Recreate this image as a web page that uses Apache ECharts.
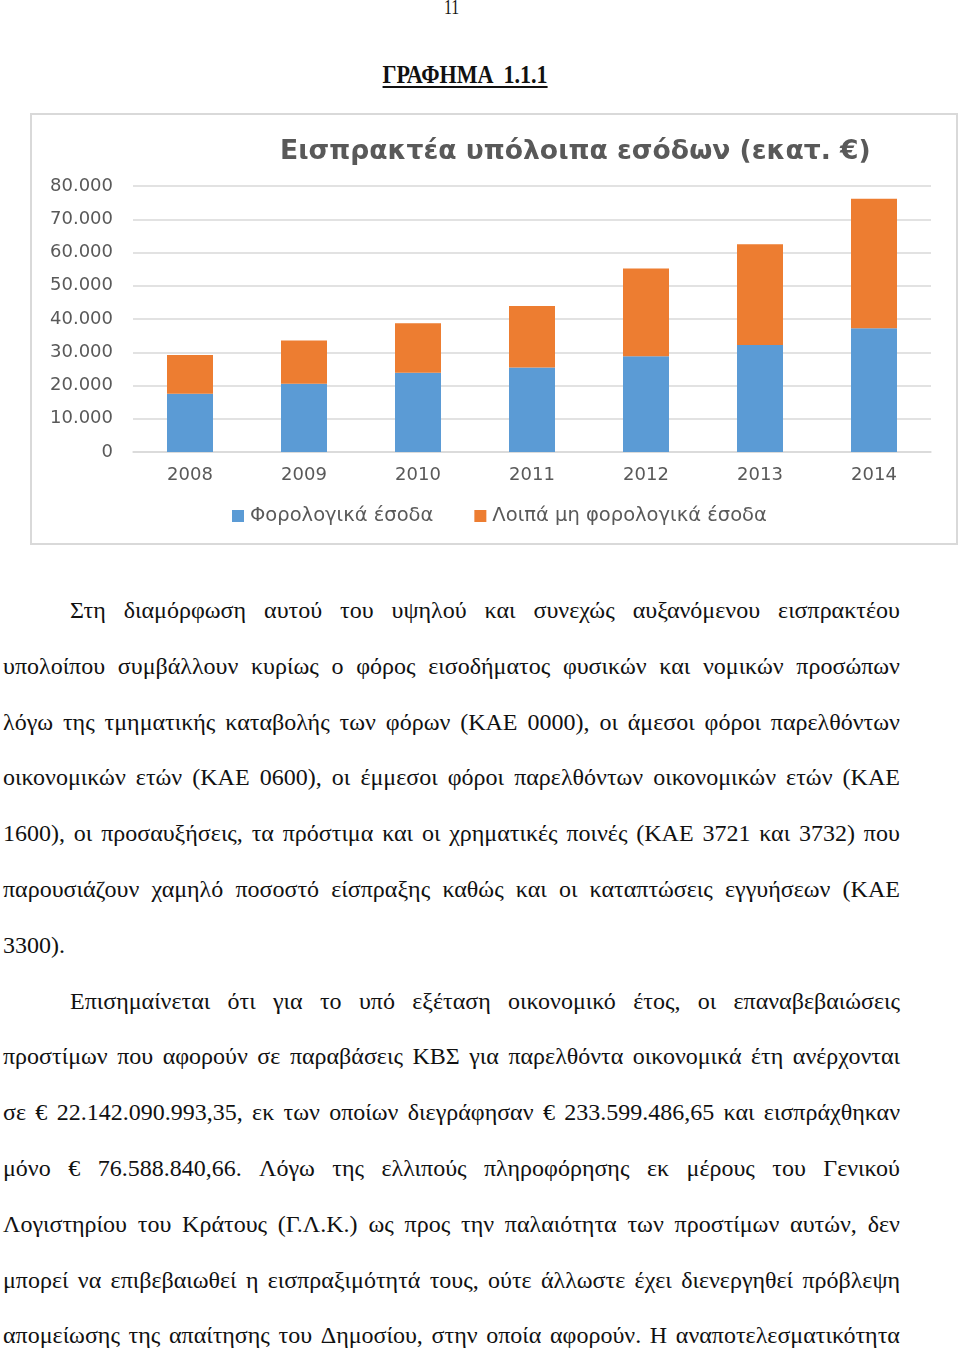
<!DOCTYPE html>
<html>
<head>
<meta charset="utf-8">
<script src="https://cdn.jsdelivr.net/npm/echarts@6/dist/echarts.min.js"></script>
<style>
  html, body { margin: 0; padding: 0; background: #fff; }
  body { width: 960px; height: 1350px; position: relative; overflow: hidden; }
  .pnum { position: absolute; left: 0; width: 904px; top: -6px; text-align: center;
          font-family: "Liberation Serif", serif; font-size: 22px; color: #111; }
  .pnum span { display: inline-block; transform: scaleX(0.72); }
  .ttl { position: absolute; left: 0; width: 930px; top: 60px; text-align: center;
         font-family: "Liberation Serif", serif; font-size: 26px; font-weight: bold; color: #111; line-height: 30px; }
  .ttl span { display: inline-block; transform: scaleX(0.85); text-decoration: underline; text-underline-offset: 3px; white-space: pre; }
  #box { position: absolute; left: 30px; top: 113px; width: 928px; height: 432px;
         border: 2px solid #d9d9d9; box-sizing: border-box; background: #fff; }
  #chart { width: 924px; height: 428px; }
  .ln { position: absolute; left: 3px; width: 897px; height: 28px; line-height: 28px;
        font-family: "Liberation Serif", "Times New Roman", serif; font-size: 24px; color: #111;
        display: flex; justify-content: space-between; white-space: nowrap; transform-origin: left center; }
  .ln.left { justify-content: flex-start; }
  .ln span { white-space: nowrap; }
</style>
</head>
<body>
<div class="pnum"><span>11</span></div>
<div class="ttl"><span>ΓΡΑΦΗΜΑ  1.1.1</span></div>
<div id="box"><div id="chart"></div></div>
<div id="text"></div>
<script>
// ---- chart data ----
const years = ['2008', '2009', '2010', '2011', '2012', '2013', '2014'];
const taxRevenue = [17500, 20500, 23800, 25400, 28800, 32200, 37200];
const nonTaxRevenue = [11700, 13000, 14900, 18500, 26400, 30300, 39000];
const seriesNames = ['Φορολογικά έσοδα', 'Λοιπά μη φορολογικά έσοδα'];
const chartTitle = 'Εισπρακτέα υπόλοιπα εσόδων (εκατ. €)';

// ---- page text ----
const bodyLines = [
  {indent: true, t: 'Στη διαμόρφωση αυτού του υψηλού και συνεχώς αυξανόμενου εισπρακτέου'},
  {t: 'υπολοίπου συμβάλλουν κυρίως ο φόρος εισοδήματος φυσικών και νομικών προσώπων'},
  {t: 'λόγω της τμηματικής καταβολής των φόρων (ΚΑΕ 0000), οι άμεσοι φόροι παρελθόντων'},
  {t: 'οικονομικών ετών (ΚΑΕ 0600), οι έμμεσοι φόροι παρελθόντων οικονομικών ετών (ΚΑΕ'},
  {t: '1600), οι προσαυξήσεις, τα πρόστιμα και οι χρηματικές ποινές (ΚΑΕ 3721 και 3732) που'},
  {t: 'παρουσιάζουν χαμηλό ποσοστό είσπραξης καθώς και οι καταπτώσεις εγγυήσεων (ΚΑΕ'},
  {left: true, t: '3300).'},
  {indent: true, t: 'Επισημαίνεται ότι για το υπό εξέταση οικονομικό έτος, οι επαναβεβαιώσεις'},
  {t: 'προστίμων που αφορούν σε παραβάσεις ΚΒΣ για παρελθόντα οικονομικά έτη ανέρχονται'},
  {t: 'σε € 22.142.090.993,35, εκ των οποίων διεγράφησαν € 233.599.486,65 και εισπράχθηκαν'},
  {t: 'μόνο € 76.588.840,66. Λόγω της ελλιπούς πληροφόρησης εκ μέρους του Γενικού'},
  {t: 'Λογιστηρίου του Κράτους (Γ.Λ.Κ.) ως προς την παλαιότητα των προστίμων αυτών, δεν'},
  {t: 'μπορεί να επιβεβαιωθεί η εισπραξιμότητά τους, ούτε άλλωστε έχει διενεργηθεί πρόβλεψη'},
  {t: 'απομείωσης της απαίτησης του Δημοσίου, στην οποία αφορούν. Η αναποτελεσματικότητα'}
];

const textHost = document.getElementById('text');
bodyLines.forEach((L, i) => {
  const d = document.createElement('div');
  d.className = 'ln' + (L.left ? ' left' : '');
  const x0 = L.indent ? 70 : 3;
  const w = 900 - x0;
  d.style.left = x0 + 'px';
  d.style.width = w + 'px';
  d.style.top = (596 + 55.8 * i) + 'px';
  const words = L.t.split(' ');
  words.forEach((wd, k) => {
    const s = document.createElement('span');
    s.textContent = wd;
    if (L.left && k > 0) s.style.marginLeft = '0.25em';
    d.appendChild(s);
  });
  textHost.appendChild(d);
  if (!L.left) {
    let nat = 0;
    d.querySelectorAll('span').forEach(s => nat += s.getBoundingClientRect().width);
    nat += 24 * 0.25 * (words.length - 1);
    if (nat > w) {
      d.style.width = nat + 'px';
      d.style.transform = 'scaleX(' + (w / nat) + ')';
    }
  }
});

// ---- chart ----
const chart = echarts.init(document.getElementById('chart'), null, {renderer: 'canvas'});
const gray = '#595959';
const fmt = v => v === 0 ? '0' : String(v).replace(/\B(?=(\d{3})+(?!\d))/g, '.');
chart.setOption({
  animation: false,
  backgroundColor: '#fff',
  title: {
    text: chartTitle,
    left: 243, top: 17,
    textStyle: { fontFamily: 'DejaVu Sans', fontWeight: 'bold', fontSize: 26.6, color: gray, lineHeight: 30 }
  },
  legend: {
    data: seriesNames,
    left: 195, top: 386,
    icon: 'rect', itemWidth: 12, itemHeight: 12, itemGap: 41,
    textStyle: { fontFamily: 'DejaVu Sans', fontSize: 19.5, color: gray, padding: [0, 0, 0, 1] }
  },
  grid: { left: 101, top: 71, width: 798, height: 266, containLabel: false },
  xAxis: {
    type: 'category', data: years,
    axisLine: { show: true, lineStyle: { color: '#d9d9d9', width: 1.5 } },
    axisTick: { show: false },
    axisLabel: { margin: 14, fontFamily: 'DejaVu Sans', fontSize: 18, color: gray }
  },
  yAxis: {
    type: 'value', min: 0, max: 80000, interval: 10000,
    axisLine: { show: false }, axisTick: { show: false },
    splitLine: { lineStyle: { color: '#d9d9d9', width: 1.5 } },
    axisLabel: { margin: 20, fontFamily: 'DejaVu Sans', fontSize: 18, color: gray, formatter: fmt }
  },
  series: [
    { name: seriesNames[0], type: 'bar', stack: 'total', data: taxRevenue, barWidth: 46,
      itemStyle: { color: '#5b9bd5' } },
    { name: seriesNames[1], type: 'bar', stack: 'total', data: nonTaxRevenue, barWidth: 46,
      itemStyle: { color: '#ed7d31' } }
  ]
});
</script>
</body>
</html>
